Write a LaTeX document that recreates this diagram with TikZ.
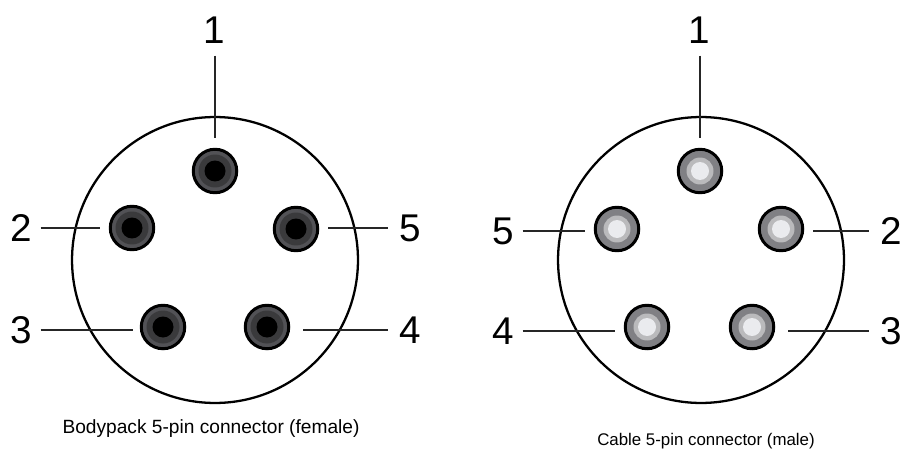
\documentclass[tikz,border=0pt]{standalone}
\usepackage{fontspec}
\setmainfont{Liberation Sans}
\usetikzlibrary{positioning}
\definecolor{femaleouter}{RGB}{82,82,86}
\definecolor{femalemid}{RGB}{58,58,60}
\definecolor{maleouter}{RGB}{128,128,132}
\definecolor{malemid}{RGB}{186,186,188}
\definecolor{malecore}{RGB}{234,235,238}
\tikzset{
  shell/.style={draw=black, line width=1.7pt, circle, fill=#1, minimum size=0.87cm, inner sep=0pt},
  ring/.style={circle, fill=#1, minimum size=0.62cm, inner sep=0pt},
  core/.style={circle, fill=#1, minimum size=0.42cm, inner sep=0pt},
  pinno/.style={font=\fontsize{22}{22}\selectfont, inner sep=0pt, outer sep=0pt},
  lead/.style={line width=1.05pt, black!85},
  caption/.style={inner sep=0pt}
}
\begin{document}
\begin{tikzpicture}[x=0.02cm, y=-0.02cm]
      \useasboundingbox (0,0) rectangle (901,449);
      % female side
      \node[draw=black, line width=1.3pt, circle, minimum size=5.72cm, inner sep=0pt] (bodyshell) at (215,260) {};
      \node[shell=femaleouter] (fpin1) at (215,171) {};
      \node[shell=femaleouter] (fpin2) at (132,228) {};
      \node[shell=femaleouter] (fpin3) at (163,327) {};
      \node[shell=femaleouter] (fpin4) at (267,327) {};
      \node[shell=femaleouter] (fpin5) at (296,229) {};
      \foreach \p in {fpin1,fpin2,fpin3,fpin4,fpin5} {
        \node[ring=femalemid, minimum size=0.66cm] at (\p) {};
        \node[core=black, minimum size=0.42cm] at (\p) {};
      }
      \node[pinno] (flab1) at (214,30) {1};
      \node[pinno] (flab2) at (21,228) {2};
      \node[pinno] (flab3) at (21,330) {3};
      \node[pinno] (flab4) at (410,330) {4};
      \node[pinno] (flab5) at (410,228) {5};
      \draw[lead, shorten <=7pt, shorten >=5.5pt] (flab1.south -| fpin1) -- (fpin1.north);
      \draw[lead, shorten <=5pt, shorten >=5pt] (flab2.east) -- (flab2.east -| fpin2.west);
      \draw[lead, shorten <=5pt, shorten >=4pt] (flab3.east) -- (flab3.east -| fpin3.west);
      \draw[lead, shorten <=6.5pt, shorten >=7pt] (flab4.west) -- (flab4.west -| fpin4.east);
      \draw[lead, shorten <=6.5pt, shorten >=5pt] (flab5.west) -- (flab5.west -| fpin5.east);
      \node[caption, font=\fontsize{10.9}{12}\selectfont] (fcaption) at (211,429) {Bodypack 5-pin connector (female)};
      % male side
      \node[draw=black, line width=1.3pt, circle, minimum size=5.72cm, inner sep=0pt] (cableshell) at (701,260) {};
      \node[shell=maleouter] (mpin1) at (700,171) {};
      \node[shell=maleouter] (mpin2) at (781,229) {};
      \node[shell=maleouter] (mpin3) at (752,327) {};
      \node[shell=maleouter] (mpin4) at (647,327) {};
      \node[shell=maleouter] (mpin5) at (617,229) {};
      \foreach \p in {mpin1,mpin2,mpin3,mpin4,mpin5} {
        \node[ring=malemid, minimum size=0.54cm] at (\p) {};
        \node[core=malecore, minimum size=0.36cm] at (\p) {};
      }
      \node[pinno] (mlab1) at (699,30) {1};
      \node[pinno] (mlab2) at (891,231) {2};
      \node[pinno] (mlab3) at (891,331) {3};
      \node[pinno] (mlab4) at (503,331) {4};
      \node[pinno] (mlab5) at (503,231) {5};
      \draw[lead, shorten <=7pt, shorten >=5.5pt] (mlab1.south -| mpin1) -- (mpin1.north);
      \draw[lead, shorten <=6.5pt, shorten >=5pt] (mlab2.west) -- (mlab2.west -| mpin2.east);
      \draw[lead, shorten <=6.5pt, shorten >=7pt] (mlab3.west) -- (mlab3.west -| mpin3.east);
      \draw[lead, shorten <=5pt, shorten >=5pt] (mlab4.east) -- (mlab4.east -| mpin4.west);
      \draw[lead, shorten <=5pt, shorten >=5pt] (mlab5.east) -- (mlab5.east -| mpin5.west);
      \node[caption, font=\fontsize{9.6}{11}\selectfont] (mcaption) at (706,441) {Cable 5-pin connector (male)};
    \end{tikzpicture}
\end{document}
